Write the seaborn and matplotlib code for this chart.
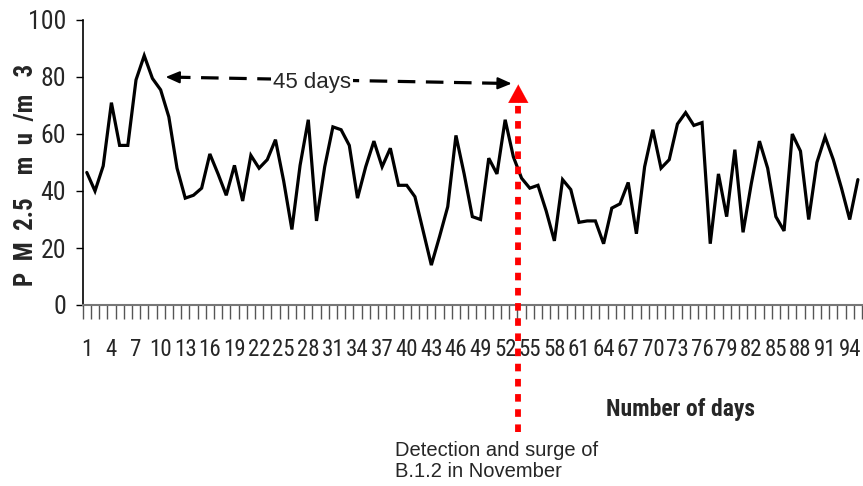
import numpy as np
import pandas as pd
import matplotlib
matplotlib.use("Agg")
import matplotlib.pyplot as plt
import seaborn as sns
from matplotlib import font_manager

# ---------------- data ----------------
pm25 = [46.5, 40, 48.8, 71, 56, 56, 79, 87.5, 79.5, 75.5,
        66, 48, 37.5, 38.5, 41, 53, 46, 38.5, 49, 36.5,
        52.5, 48, 51, 58, 43.5, 26.5, 49, 65, 29.5, 48.5,
        62.5, 61.5, 56, 37.5, 48.5, 57.5, 48.5, 55, 42, 42,
        38, 26, 14, 24, 34.5, 59.5, 46, 31, 30, 51.5,
        46, 65, 52, 44.5, 41, 42, 33, 22.5, 44, 40.5,
        29, 29.5, 29.5, 21.5, 34, 35.5, 43, 25, 48.5, 61.5,
        48, 51, 63.5, 67.5, 63, 64, 21.5, 46, 31, 54.5,
        25.5, 42.5, 57.5, 48, 31, 26, 60, 54, 30, 50,
        59, 51, 41, 30, 44]
days = list(range(1, len(pm25) + 1))
xtick_labels = [str(d) for d in range(1, 95, 3)]
yticks = [0, 20, 40, 60, 80, 100]

ylabel_text = "P  M  2.5    m  u  /m   3"
xlabel_text = "Number of days"
span_text = "45 days"
note_text = "Detection and surge of\nB.1.2 in November"

# annotation anchors (data units)
span_start = (10.6, 80.0)
span_end = (52.8, 77.7)
span_label_pos = (28.4, 78.2)
surge_x = 53.6
surge_top = 77.4
surge_bottom = -44.5

df = pd.DataFrame({"day": days, "pm25": pm25})

# ---------------- style ----------------
sns.set_theme(style="ticks")
fonts = font_manager.fontManager.ttflist
names = {f.name for f in fonts}
narrow = None
for cand in ["Liberation Sans Narrow", "Arial Narrow", "Roboto Condensed",
             "Noto Sans Condensed", "Open Sans Condensed", "DejaVu Sans Condensed"]:
    if cand in names:
        narrow = cand
        break
if narrow is None:
    for f in fonts:
        if f.stretch in ("condensed", "semi-condensed", "extra-condensed") or \
                "Condensed" in f.name or "Narrow" in f.name:
            narrow = f.name
            break
plt.rcParams["font.family"] = ["Liberation Sans", "DejaVu Sans"]
if narrow is None:
    ytick_font = dict(family="Liberation Sans", fontsize=14)
    xtick_font = dict(family="Liberation Sans", fontsize=13)
    lab_font = dict(family="Liberation Sans", fontsize=15, fontweight="bold")
    ylab_size = 15
else:
    ytick_font = dict(family=narrow, fontsize=18.5)
    xtick_font = dict(family=narrow, fontsize=16.5)
    lab_font = dict(family=narrow, fontsize=17, fontweight="bold")
    ylab_size = 18

fig = plt.figure(figsize=(8.63, 4.86), dpi=100)
ax = fig.add_axes([82.7 / 863, 1 - 305 / 486, (862 - 82.7) / 863, 285 / 486])

sns.lineplot(data=df, x="day", y="pm25", ax=ax, color="black", linewidth=2.3,
             solid_joinstyle="miter")

ax.set_xlim(0.5, len(pm25) + 0.5)
ax.set_ylim(0, 100)
ax.set_yticks(yticks)
ax.set_yticklabels([str(v) for v in yticks], **ytick_font)
ax.tick_params(axis="y", direction="out", length=5, width=1, color="black", pad=7)

ax.set_xticks(list(range(1, 95, 3)))
ax.set_xticklabels(xtick_labels, **xtick_font)
ax.set_xticks(np.arange(0.5, len(pm25) + 1, 1.0), minor=True)
ax.tick_params(axis="x", which="major", length=0, pad=24)
ax.tick_params(axis="x", which="minor", direction="out", length=10, width=1, color="#555555")

for s in ["top", "right"]:
    ax.spines[s].set_visible(False)
ax.spines["left"].set_color("black")
ax.spines["left"].set_linewidth(1.2)
ax.spines["bottom"].set_color("#777777")
ax.spines["bottom"].set_linewidth(1.5)

ax.set_xlabel("")
ax.set_ylabel(ylabel_text, fontsize=ylab_size,
              **{k: v for k, v in lab_font.items() if k != "fontsize"})
ax.yaxis.set_label_coords(-0.057, 0.455)

fig.text(680 / 863, 1 - 409 / 486, xlabel_text, ha="center", va="center", **lab_font)

# ---------------- 45 days dashed double arrow ----------------
ax.plot([span_start[0] + 0.9, span_end[0] - 0.9], [span_start[1] - 0.05, span_end[1] + 0.05],
        color="black", linewidth=2.3, linestyle=(0, (5.5, 3.3)), dash_capstyle="butt",
        solid_capstyle="butt")
ax.annotate("", xy=span_start, xytext=(span_start[0] + 1.2, span_start[1] - 0.07),
            arrowprops=dict(arrowstyle="-|>,head_length=0.7,head_width=0.3",
                            color="black", lw=1.5, shrinkA=0, shrinkB=0))
ax.annotate("", xy=span_end, xytext=(span_end[0] - 1.2, span_end[1] + 0.07),
            arrowprops=dict(arrowstyle="-|>,head_length=0.7,head_width=0.3",
                            color="black", lw=1.5, shrinkA=0, shrinkB=0))
ax.text(span_label_pos[0], span_label_pos[1], span_text, fontsize=16, ha="center",
        va="center", bbox=dict(facecolor="white", edgecolor="none", pad=1.5), zorder=5)

# ---------------- red dotted surge arrow ----------------
ax.plot([surge_x, surge_x], [surge_bottom, surge_top - 6.5], color="#ff0000",
        linewidth=4.2, linestyle=(0, (1.3, 1.3)), dash_capstyle="butt", clip_on=False, zorder=6)
ax.annotate("", xy=(surge_x, surge_top), xytext=(surge_x, surge_top - 6.6),
            arrowprops=dict(arrowstyle="-|>,head_length=1.1,head_width=0.6",
                            color="#ff0000", lw=0.1, shrinkA=0, shrinkB=0),
            zorder=6, annotation_clip=False)

fig.text(395 / 863, 1 - 461 / 486, note_text, fontsize=14.5, ha="left", va="center",
         linespacing=1.15)

fig.savefig("out.png", dpi=100)
